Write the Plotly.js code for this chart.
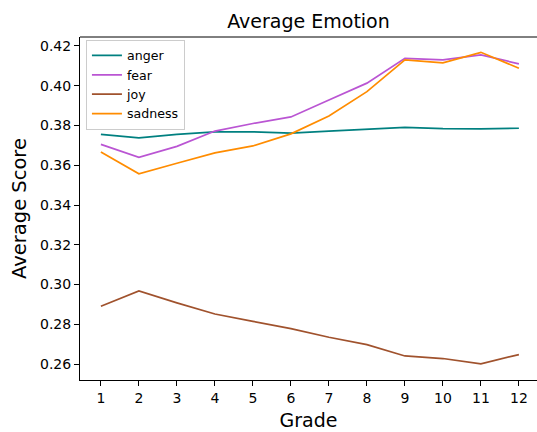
<!DOCTYPE html>
<html>
<head>
<meta charset="utf-8">
<script src="https://cdn.plot.ly/plotly-3.0.1.min.js"></script>
<style>html,body{margin:0;padding:0;background:#fff;}#chart{width:537px;height:432px;}</style>
</head>
<body>
<div id="chart"></div>
<script>
const grades = [1, 2, 3, 4, 5, 6, 7, 8, 9, 10, 11, 12];
const anger   = [0.3755, 0.3738, 0.3755, 0.3768, 0.3768, 0.3762, 0.3772, 0.3782, 0.3790, 0.3784, 0.3783, 0.3786];
const fear    = [0.3705, 0.3640, 0.3695, 0.3772, 0.3810, 0.3843, 0.3928, 0.4013, 0.4138, 0.4130, 0.4155, 0.4110];
const joy     = [0.2891, 0.2968, 0.2908, 0.2852, 0.2815, 0.2778, 0.2735, 0.2698, 0.2641, 0.2628, 0.2601, 0.2648];
const sadness = [0.3667, 0.3557, 0.3610, 0.3662, 0.3697, 0.3758, 0.3848, 0.3970, 0.4130, 0.4115, 0.4168, 0.4088];
const yTicks = [0.26, 0.28, 0.30, 0.32, 0.34, 0.36, 0.38, 0.40, 0.42];

const font = "DejaVu Sans, sans-serif";
function tr(name, y, color) {
  return {x: grades, y: y, name: name, type: 'scatter', mode: 'lines',
          line: {color: color, width: 1.7}};
}
const data = [
  tr('anger', anger, '#008080'),
  tr('fear', fear, '#BA55D3'),
  tr('joy', joy, '#A0522D'),
  tr('sadness', sadness, '#FF8C00')
];
const layout = {
  width: 537, height: 432,
  margin: {l: 80, r: 0, t: 37, b: 52, pad: 0},
  paper_bgcolor: '#fff', plot_bgcolor: '#fff',
  font: {family: font, color: '#000', size: 14},
  title: {text: 'Average Emotion', font: {family: font, size: 19, color: '#000'},
          x: 0.5, xanchor: 'center', xref: 'paper', y: 1 - 21/432, yanchor: 'middle', yref: 'container'},
  xaxis: {range: [0.45, 12.476], tickvals: grades, ticktext: grades.map(String),
          showgrid: false, zeroline: false, showline: true, linecolor: '#000', linewidth: 1,
          mirror: false, ticks: 'outside', ticklen: 5, tickcolor: '#000', tickwidth: 1,
          tickfont: {family: font, size: 14, color: '#000'},
          title: {text: 'Grade', font: {family: font, size: 19, color: '#000'}, standoff: 8}},
  yaxis: {range: [0.2520, 0.4245], tickvals: yTicks, ticktext: yTicks.map(v => v.toFixed(2)),
          showgrid: false, zeroline: false, showline: true, linecolor: '#000', linewidth: 1,
          mirror: false, ticks: 'outside', ticklen: 5, tickcolor: '#000', tickwidth: 1,
          tickfont: {family: font, size: 14, color: '#000'},
          title: {text: 'Average Score', font: {family: font, size: 19.5, color: '#000'}, standoff: 8}},
  showlegend: true,
  legend: {x: 0.013, y: 0.992, xanchor: 'left', yanchor: 'top',
           bgcolor: 'rgba(255,255,255,0.8)', bordercolor: '#cccccc', borderwidth: 1,
           font: {family: font, size: 12.6, color: '#000'}, itemwidth: 30, tracegroupgap: 0},
  shapes: [{type: 'line', xref: 'paper', yref: 'paper', x0: 0, x1: 1, y0: 1, y1: 1,
            line: {color: '#000', width: 1}}]
};
Plotly.newPlot('chart', data, layout, {displayModeBar: false, staticPlot: true});
</script>
</body>
</html>
